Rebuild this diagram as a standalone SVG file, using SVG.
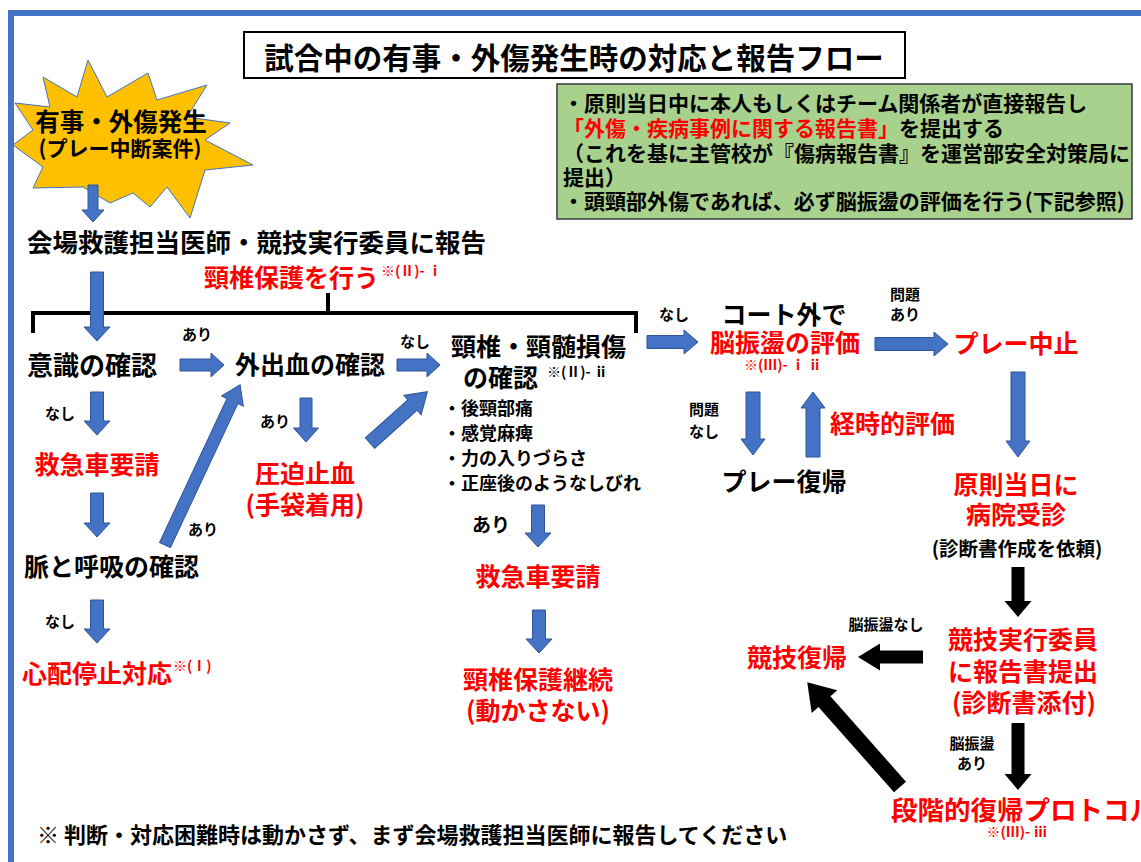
<svg xmlns="http://www.w3.org/2000/svg" width="1141" height="862" viewBox="0 0 1141 862">
<style>
.t{font-family:"Noto Sans CJK JP","Noto Sans CJK SC",sans-serif;font-weight:bold;dominant-baseline:central;fill:#000}
.r{fill:#FF0000}
.m{text-anchor:middle}
.s15{font-size:15px}
.s25{font-size:25px}
.sup{font-size:14px}
.ba{fill:#4472C4;stroke:#2F5597;stroke-width:1}
.bk{fill:#000}
</style>
<rect x="0" y="0" width="1141" height="862" fill="#fff"/>
<rect x="11" y="13" width="1140" height="860" fill="none" stroke="#4472C4" stroke-width="6"/>

<g id="title">
<rect x="244" y="32" width="661" height="46" fill="#fff" stroke="#000" stroke-width="2"/>
<text class="t m" x="574" y="56" font-size="29.5">試合中の有事・外傷発生時の対応と報告フロー</text>
</g>

<g id="note">
<rect x="557" y="84" width="575" height="135" fill="#A9D18E" stroke="#3A3A3A" stroke-width="1.5"/>
<text class="t" x="563" y="102" font-size="21">・原則当日中に本人もしくはチーム関係者が直接報告し</text>
<text class="t" x="563" y="127" font-size="21"><tspan class="r">「外傷・疾病事例に関する報告書」</tspan>を提出する</text>
<text class="t" x="563" y="152" font-size="21">（これを基に主管校が『傷病報告書』を運営部安全対策局に</text>
<text class="t" x="563" y="176" font-size="21">提出）</text>
<text class="t" x="563" y="200" font-size="21">・頭頸部外傷であれば、必ず脳振盪の評価を行う(下記参照)</text>
</g>

<g id="start">
<polygon points="88,60 107,97 148,73 157,100 207,85 187,117 230,123 205,140 253,165 205,170 190,218 167,187 150,207 133,193 110,203 83,187 33,188 43,167 13,145 33,130 15,103 50,107 43,77 77,97" fill="#FFC000" stroke="#4472C4" stroke-width="1"/>
<text class="t m" x="121" y="120" font-size="24.5">有事・外傷発生</text>
<text class="t m" x="120" y="147" font-size="21">(プレー中断案件)</text>
</g>

<g id="report">
<text class="t" x="27" y="240" font-size="25.5">会場救護担当医師・競技実行委員に報告</text>
</g>

<g id="neck-protect">
<text class="t r" x="204" y="276" font-size="25">頸椎保護を行う</text>
<text class="t r sup" x="381" y="270">※(Ⅱ)- ⅰ</text>
</g>

<g id="consciousness"><text class="t" x="27" y="363" font-size="26">意識の確認</text></g>
<g id="ambulance1"><text class="t r m s25" x="97" y="463">救急車要請</text></g>
<g id="pulse"><text class="t" x="24" y="565" font-size="25">脈と呼吸の確認</text></g>
<g id="cpa"><text class="t r" x="22" y="672" font-size="25">心配停止対応</text><text class="t r sup" x="173" y="665">※(Ⅰ)</text></g>

<g id="bleeding"><text class="t" x="235" y="363" font-size="25">外出血の確認</text></g>
<g id="compress"><text class="t r m s25" x="305" y="472">圧迫止血</text><text class="t r m s25" x="305" y="503">(手袋着用)</text></g>

<g id="cervical">
<text class="t" x="451" y="345" font-size="25">頸椎・頸髄損傷</text>
<text class="t" x="463" y="376" font-size="25">の確認</text>
<text class="t sup" x="547" y="371">※(Ⅱ)- ⅱ</text>
<text class="t" x="443" y="407" font-size="18">・後頸部痛</text>
<text class="t" x="443" y="432" font-size="18">・感覚麻痺</text>
<text class="t" x="443" y="457" font-size="18">・力の入りづらさ</text>
<text class="t" x="443" y="482" font-size="18">・正座後のようなしびれ</text>
</g>
<g id="ambulance2"><text class="t r m s25" x="538" y="575">救急車要請</text></g>
<g id="neck-continue"><text class="t r m s25" x="538" y="678">頸椎保護継続</text><text class="t r m s25" x="538" y="709">(動かさない)</text></g>

<g id="concussion-eval">
<text class="t m s25" x="784" y="313">コート外で</text>
<text class="t r m s25" x="785" y="341">脳振盪の評価</text>
<text class="t r m" x="783" y="364" font-size="14">※(Ⅲ)- ⅰ ⅱ</text>
</g>
<g id="play-return"><text class="t m s25" x="784" y="480">プレー復帰</text></g>
<g id="serial-eval"><text class="t r s25" x="830" y="422">経時的評価</text></g>
<g id="play-stop"><text class="t r m s25" x="1016" y="342">プレー中止</text></g>
<g id="hospital">
<text class="t r m s25" x="1016" y="483">原則当日に</text>
<text class="t r m s25" x="1016" y="513">病院受診</text>
<text class="t m" x="1017" y="547" font-size="19.5">(診断書作成を依頼)</text>
</g>
<g id="submit">
<text class="t r m s25" x="1023" y="638">競技実行委員</text>
<text class="t r m s25" x="1023" y="670">に報告書提出</text>
<text class="t r m s25" x="1024" y="701">(診断書添付)</text>
</g>
<g id="comp-return"><text class="t r m s25" x="797" y="656">競技復帰</text></g>
<g id="protocol">
<text class="t r" x="891" y="808" font-size="26.5">段階的復帰プロトコル</text>
<text class="t r m" x="1017" y="831" font-size="14">※(Ⅲ)- ⅲ</text>
</g>

<g id="footnote"><text class="t" x="37" y="833" font-size="22">※ 判断・対応困難時は動かさず、まず会場救護担当医師に報告してください</text></g>

<g id="connectors">
<path d="M33,333 V313 H636 V333 M328,293 V313" fill="none" stroke="#000" stroke-width="4"/>
<polygon class="ba" points="88,185 98,185 98,210 104,210 93,222 82,210 88,210"/>
<polygon class="ba" points="90.5,272 103.5,272 103.5,327 110,327 97,341 84,327 90.5,327"/>
<polygon class="ba" points="90.5,392 103.5,392 103.5,421 110,421 97,435 84,421 90.5,421"/>
<polygon class="ba" points="90.5,493 103.5,493 103.5,523 110,523 97,537 84,523 90.5,523"/>
<polygon class="ba" points="90.5,600 103.5,600 103.5,629 110,629 97,643 84,629 90.5,629"/>
<polygon class="ba" points="300,398 312,398 312,428 318.5,428 306,442 293.5,428 300,428"/>
<polygon class="ba" points="531.5,505 544.5,505 544.5,533 551,533 538,547 525,533 531.5,533"/>
<polygon class="ba" points="532.5,610 545.5,610 545.5,639 552,639 539,653 526,639 532.5,639"/>
<polygon class="ba" points="746,392 760,392 760,439 765,439 753,455 741,439 746,439"/>
<polygon class="ba" points="1011,372 1025,372 1025,441 1030,441 1018,457 1006,441 1011,441"/>
<polygon class="ba" points="806,457 820,457 820,408 825,408 813,392 801,408 806,408"/>
<polygon class="ba" points="180,359 211,359 211,353 224,365 211,377 211,371 180,371"/>
<polygon class="ba" points="397,359 427,359 427,353 440,365 427,377 427,371 397,371"/>
<polygon class="ba" points="647,335.5 684,335.5 684,330 698,342 684,354 684,348.5 647,348.5"/>
<polygon class="ba" points="875,337.5 934,337.5 934,332 948,344 934,356 934,350.5 875,350.5"/>
<polygon class="ba" transform="translate(165,545) rotate(-64.9)" points="0,-6 159,-6 159,-12 177,0 159,12 159,6 0,6"/>
<polygon class="ba" transform="translate(370,443) rotate(-41.8)" points="0,-7 57,-7 57,-13 77,0 57,13 57,7 0,7"/>
<polygon class="bk" points="1011.5,567 1024.5,567 1024.5,601 1031.5,601 1018,617 1004.5,601 1011.5,601"/>
<polygon class="bk" points="1011.5,723 1024.5,723 1024.5,774 1031.5,774 1018,790 1004.5,774 1011.5,774"/>
<polygon class="bk" points="923,650.5 880,650.5 880,643.5 858,657 880,670.5 880,663.5 923,663.5"/>
<polygon class="bk" transform="translate(900,787) rotate(-131.5)" points="0,-8 114,-8 114,-17 140,0 114,17 114,8 0,8"/>
<text class="t m s15" x="197" y="333">あり</text>
<text class="t m s15" x="415" y="340">なし</text>
<text class="t m s15" x="60" y="412">なし</text>
<text class="t m s15" x="60" y="620">なし</text>
<text class="t m s15" x="203" y="528">あり</text>
<text class="t m s15" x="275" y="420">あり</text>
<text class="t m" x="491" y="523" font-size="19">あり</text>
<text class="t m s15" x="674" y="313">なし</text>
<text class="t m s15" x="905" y="293">問題</text>
<text class="t m s15" x="905" y="313">あり</text>
<text class="t m s15" x="704" y="408">問題</text>
<text class="t m s15" x="704" y="430">なし</text>
<text class="t m s15" x="886" y="623">脳振盪なし</text>
<text class="t m s15" x="972" y="742">脳振盪</text>
<text class="t m s15" x="972" y="762">あり</text>
</g>
</svg>
